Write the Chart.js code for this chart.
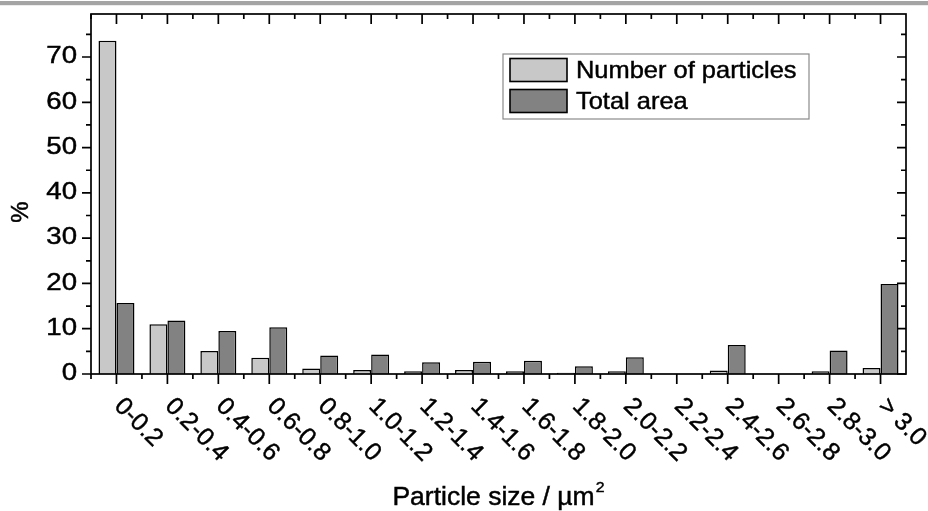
<!DOCTYPE html>
<html>
<head>
<meta charset="utf-8">
<script src="https://cdn.jsdelivr.net/npm/chart.js@4/dist/chart.umd.min.js"></script>
<style>
html,body{margin:0;padding:0;background:#fff;}
#wrap{position:relative;width:928px;height:511px;}
</style>
</head>
<body>
<div id="wrap"><canvas id="c" width="928" height="511"></canvas></div>
<script>
// ---- data ----
const categories = ['0-0.2','0.2-0.4','0.4-0.6','0.6-0.8','0.8-1.0','1.0-1.2','1.2-1.4','1.4-1.6','1.6-1.8','1.8-2.0','2.0-2.2','2.2-2.4','2.4-2.6','2.6-2.8','2.8-3.0','> 3.0'];
const numberOfParticles = [73.6, 11.0, 5.1, 3.6, 1.2, 0.9, 0.6, 0.9, 0.6, 0.3, 0.6, 0, 0.8, 0, 0.6, 1.3];
const totalArea = [15.7, 11.8, 9.5, 10.3, 4.1, 4.3, 2.6, 2.7, 2.9, 1.7, 3.7, 0, 6.4, 0, 5.2, 19.9];
const seriesNames = ['Number of particles', 'Total area'];
const seriesColors = ['#c8c8c8', '#828282'];
const yMajorTicks = [0, 10, 20, 30, 40, 50, 60, 70];
const yMinorTicks = [5, 15, 25, 35, 45, 55, 65, 75];
const yMax = 79.5;
const xTitle = 'Particle size / \u00b5m';
const xTitleSup = '2';
const yTitle = '%';

const FONT = '"Liberation Sans", Arial, sans-serif';
const SX = 1.1; // horizontal text stretch seen in reference
const WEIGHT = 0.45; // extra stroke to mimic heavier rendering

function drawText(ctx, text, x, y) {
  ctx.fillText(text, x, y);
  ctx.lineWidth = WEIGHT;
  ctx.strokeStyle = '#000';
  ctx.strokeText(text, x, y);
}

function stretchedText(ctx, text, x, y, size, align, baseline, sx) {
  ctx.save();
  ctx.font = size + 'px ' + FONT;
  ctx.textAlign = align;
  ctx.textBaseline = baseline;
  ctx.translate(x, y);
  ctx.scale(sx, 1);
  drawText(ctx, text, 0, 0);
  ctx.restore();
}

const axesPlugin = {
  id: 'originAxes',
  beforeDatasetsDraw(chart) {
    const ctx = chart.ctx;
    ctx.save();
    ctx.fillStyle = '#a4a4a4';
    ctx.fillRect(0, 1, chart.width, 4);
    ctx.fillStyle = '#ececec';
    ctx.fillRect(0, 5, chart.width, 1);
    ctx.restore();
  },
  afterDatasetsDraw(chart) {
    const ctx = chart.ctx;
    const a = chart.chartArea;
    const xs = chart.scales.x, ys = chart.scales.y;
    ctx.save();
    ctx.strokeStyle = '#000';
    ctx.lineWidth = 1.7;
    ctx.lineCap = 'butt';
    // frame
    ctx.strokeRect(a.left, a.top, a.right - a.left, a.bottom - a.top);
    ctx.beginPath();
    const tick = (x1, y1, x2, y2) => { ctx.moveTo(x1, y1); ctx.lineTo(x2, y2); };
    yMajorTicks.forEach(v => {
      const y = ys.getPixelForValue(v);
      tick(a.left - 9, y, a.left, y);
      tick(a.right, y, a.right - 9, y);
    });
    yMinorTicks.forEach(v => {
      const y = ys.getPixelForValue(v);
      tick(a.left - 5, y, a.left, y);
      tick(a.right, y, a.right - 5, y);
    });
    categories.forEach((c, i) => {
      const x = xs.getPixelForValue(i);
      tick(x, a.bottom, x, a.bottom + 10);
      tick(x, a.top, x, a.top + 10);
      const xb = xs.getPixelForValue(i - 0.5);
      tick(xb, a.bottom, xb, a.bottom + 5);
      tick(xb, a.top, xb, a.top + 5);
    });
    ctx.stroke();

    ctx.fillStyle = '#000';
    // y labels
    yMajorTicks.forEach(v => {
      stretchedText(ctx, String(v), a.left - 14, ys.getPixelForValue(v), 23, 'right', 'middle', SX + 0.1);
    });
    // x labels rotated 45deg clockwise
    const fs = 25;
    categories.forEach((c, i) => {
      const x = xs.getPixelForValue(i);
      ctx.save();
      ctx.font = fs + 'px ' + FONT;
      ctx.textAlign = 'left';
      ctx.textBaseline = 'alphabetic';
      ctx.translate(x + 3, a.bottom + 27);
      ctx.rotate(Math.PI / 4);
      drawText(ctx, c, 0, fs * 0.716 / 2);
      ctx.restore();
    });
    // x title
    ctx.save();
    ctx.font = '25px ' + FONT;
    const wMain = ctx.measureText(xTitle).width;
    ctx.font = '15px ' + FONT;
    const wSup = ctx.measureText(xTitleSup).width;
    ctx.restore();
    const sxT = 1.06;
    const total = (wMain + wSup + 1) * sxT;
    const cx = (a.left + a.right) / 2;
    const start = cx - total / 2;
    stretchedText(ctx, xTitle, start, 505, 25, 'left', 'alphabetic', sxT);
    stretchedText(ctx, xTitleSup, start + (wMain + 1) * sxT, 492, 15, 'left', 'alphabetic', sxT);
    // y title
    ctx.save();
    ctx.font = '24px ' + FONT;
    ctx.textAlign = 'center';
    ctx.textBaseline = 'middle';
    ctx.translate(21, 212);
    ctx.rotate(-Math.PI / 2);
    drawText(ctx, yTitle, 0, 0);
    ctx.restore();

    // legend
    ctx.save();
    ctx.strokeStyle = '#8a8a8a';
    ctx.lineWidth = 1.2;
    ctx.strokeRect(503, 54, 306, 65);
    const rows = [70, 101];
    seriesNames.forEach((n, k) => {
      ctx.fillStyle = seriesColors[k];
      ctx.fillRect(510, rows[k] - 11.5, 57, 23);
      ctx.strokeStyle = '#000';
      ctx.lineWidth = 1.6;
      ctx.strokeRect(510, rows[k] - 11.5, 57, 23);
      ctx.fillStyle = '#000';
      stretchedText(ctx, n, 576, rows[k] + 8, 24, 'left', 'alphabetic', 1.06);
    });
    ctx.restore();
    ctx.restore();
  }
};

new Chart(document.getElementById('c'), {
  type: 'bar',
  data: {
    labels: categories,
    datasets: [
      { label: seriesNames[0], data: numberOfParticles, backgroundColor: seriesColors[0], borderColor: '#000', borderWidth: 1.5, borderSkipped: 'bottom' },
      { label: seriesNames[1], data: totalArea, backgroundColor: seriesColors[1], borderColor: '#000', borderWidth: 1.5, borderSkipped: 'bottom' }
    ]
  },
  options: {
    responsive: true,
    maintainAspectRatio: false,
    animation: false,
    devicePixelRatio: 1,
    layout: { padding: { left: 91, right: 22, top: 14, bottom: 137 } },
    datasets: { bar: { categoryPercentage: 0.706, barPercentage: 1.0 } },
    scales: {
      x: { display: false, offset: true },
      y: { display: false, min: 0, max: yMax }
    },
    plugins: { legend: { display: false }, tooltip: { enabled: false } }
  },
  plugins: [axesPlugin]
});
</script>
</body>
</html>
